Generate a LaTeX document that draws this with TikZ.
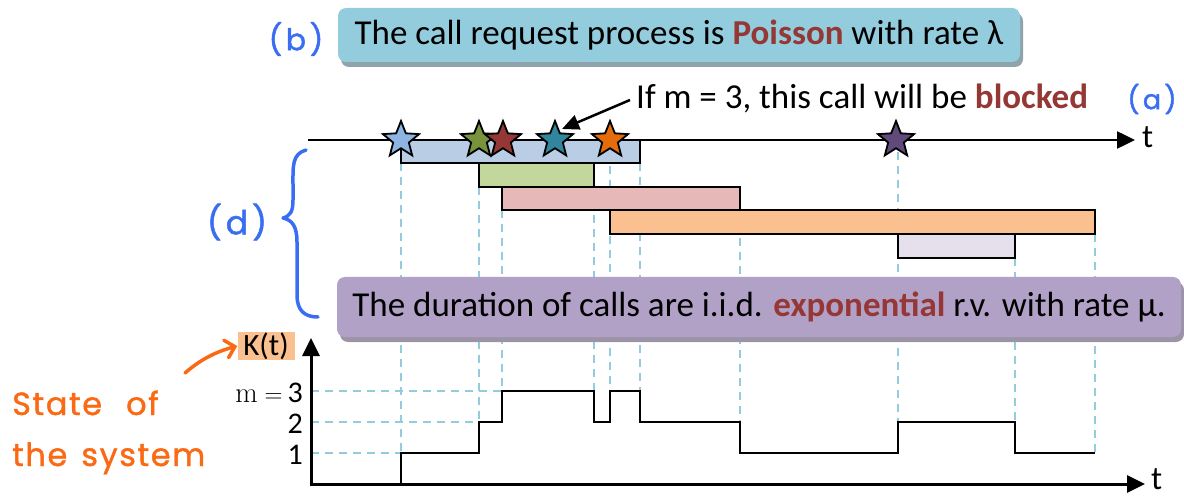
\documentclass[tikz,border=0pt]{standalone}
\usepackage{fontspec}
\usetikzlibrary{shapes.geometric,arrows.meta,shadows,calc}
\newfontfamily\calib{Carlito}
\newfontfamily\handfont[LetterSpace=12,FakeBold=1.5]{Poppins}
\newfontfamily\handfontb[LetterSpace=5,FakeBold=1.2]{Poppins}
\definecolor{dred}{HTML}{953735}
\definecolor{boxteal}{HTML}{93CDDD}
\definecolor{boxpurple}{HTML}{B2A1C7}
\definecolor{shteal}{HTML}{8FA3AB}
\definecolor{shpurple}{HTML}{9C94A6}
\definecolor{dashblue}{HTML}{93CDDD}
\definecolor{hblue}{HTML}{3A6EF2}
\definecolor{horange}{HTML}{FA6A14}
\definecolor{barblue}{HTML}{B9CDE5}
\definecolor{bargreen}{HTML}{C3D69B}
\definecolor{barpink}{HTML}{E6B9B8}
\definecolor{barorange}{HTML}{FAC090}
\definecolor{barlav}{HTML}{E6E0EC}
\definecolor{stblue}{HTML}{8EB4E3}
\definecolor{stgreen}{HTML}{77933C}
\definecolor{stred}{HTML}{953735}
\definecolor{stteal}{HTML}{31859C}
\definecolor{storange}{HTML}{E46C0A}
\definecolor{stpurple}{HTML}{604A7B}
\begin{document}
\begin{tikzpicture}[x=1pt,y=-1pt,
  starnode/.style={star,star points=5,star point ratio=2.3,minimum size=38pt,inner sep=0pt,draw=black,line width=1.8pt},
  bar/.style={draw=black,line width=1.6pt},
  dashv/.style={draw=dashblue,line width=1.6pt,dash pattern=on 8pt off 6pt},
  infobox/.style={rounded corners=8pt,inner sep=0pt,font=\calib\fontsize{35}{40}\selectfont},
  axisline/.style={line width=3pt,-{Triangle[length=18pt,width=17pt]}},
  stepline/.style={line width=2pt,line join=miter},
  hand/.style={font=\handfont\fontsize{30}{34}\selectfont},
  lbl/.style={font=\calib\fontsize{30}{34}\selectfont,inner sep=0pt},
]
\useasboundingbox (0,0) rectangle (1184,497);

% ---- dashed guide lines (behind everything) ----
\draw[dashv] (401,163) -- (401,453);
\draw[dashv] (479,187) -- (479,422);
\draw[dashv] (502,210) -- (502,391);
\draw[dashv] (594,187) -- (594,391);
\draw[dashv] (610,152) -- (610,391);
\draw[dashv] (640,163) -- (640,391);
\draw[dashv] (740,210) -- (740,422);
\draw[dashv] (898,152) -- (898,422);
\draw[dashv] (1015,258) -- (1015,422);
\draw[dashv] (1095,234) -- (1095,453);
\draw[dashv] (311,453) -- (401,453);
\draw[dashv] (311,422) -- (479,422);
\draw[dashv] (311,391) -- (502,391);

% ---- call duration bars ----
\draw[bar,fill=barblue] (401,140) rectangle (640,163);
\draw[bar,fill=bargreen] (479,163) rectangle (594,187);
\draw[bar,fill=barpink] (502,187) rectangle (740,210);
\draw[bar,fill=barorange] (610,210) rectangle (1095,234);
\draw[bar,fill=barlav] (898,234) rectangle (1015,258);

% ---- top time axis ----
\coordinate (tl0) at (308,140);
\coordinate (tl1) at (1135,140);
\draw[line width=2.5pt,-{Triangle[length=18pt,width=17pt]}] (tl0) -- (tl1);
\node[lbl,font=\calib\fontsize{33}{36}\selectfont,anchor=west] (ttop) at (1142,137) {t};

% ---- stars ----
\node[starnode,fill=stblue] (s1) at (401,140) {};
\node[starnode,fill=stgreen] (s2) at (479,140) {};
\node[starnode,fill=stred] (s3) at (503,140) {};
\node[starnode,fill=stteal] (s4) at (555,140) {};
\node[starnode,fill=storange] (s5) at (610,140) {};
\node[starnode,fill=stpurple] (s6) at (896,140) {};

% ---- blocked annotation ----
\node[anchor=west,inner sep=0pt,font=\calib\fontsize{35}{40}\selectfont] (blk) at (636,98)
  {If m = 3, this call will be \textbf{\color{dred}blocked}};
\coordinate (blktip) at (562,129);
\draw[line width=2.5pt,-{Triangle[length=17pt,width=15pt]}] ($(blk.west)+(-6,2)$) -- (blktip);

% ---- info boxes ----
\node[infobox,fill=boxteal,minimum width=682pt,minimum height=54pt,
  drop shadow={shadow xshift=3pt,shadow yshift=-5pt,fill=shteal,opacity=1}] (boxb) at (679,35)
  {The call request process is \textbf{\color{dred}Poisson} with rate λ};
\node[infobox,fill=boxpurple,minimum width=844pt,minimum height=60pt,
  drop shadow={shadow xshift=3pt,shadow yshift=-5pt,fill=shpurple,opacity=1}] (boxd) at (759,307)
  {The duration of calls are i.i.d. \textbf{\color{dred}exponential} r.v. with rate μ.};

% ---- handwritten marks ----
\node[hand,text=hblue] (hb) at (296,39) {(b)};
\node[hand,text=hblue,font=\handfont\fontsize{27}{30}\selectfont] (ha) at (1152,99) {(a)};
\node[hand,text=hblue,font=\handfont\fontsize{33}{36}\selectfont] (hd) at (237,222) {(d)};
\draw[hblue,line width=3.5pt,line cap=round,line join=round]
  (306,150) .. controls (292,154) and (293,166) .. (293,185) -- (293,200)
  .. controls (293,212) and (290,216) .. (283,218)
  .. controls (292,220) and (297,226) .. (297,242) -- (297,295)
  .. controls (297,311) and (305,317) .. (318,317);

% ---- lower chart: state K(t) ----
\coordinate (O) at (311,484);
\coordinate (ytip) at (311,338);
\coordinate (xtip) at (1145,484);
\draw[axisline] (O) -- (ytip);
\draw[axisline] ($(O)+(-1.5,0)$) -- (xtip);
\node[lbl,font=\calib\fontsize{33}{36}\selectfont,anchor=west] (tbot) at (1151,479) {t};
\node[fill=barorange,inner sep=1pt,font=\calib\fontsize{31}{34}\selectfont,minimum width=57pt,minimum height=27pt] (Kt) at (266,346) {K(t)};
\node[lbl,anchor=east] (l1) at (303,455) {1};
\node[lbl,anchor=east] (l2) at (303,424) {2};
\node[lbl,anchor=east] (l3) at (303,393) {{\fontsize{29}{32}\selectfont$\mathrm{m} =$}\,3};

\draw[stepline] (401,484) -- (401,453) -- (479,453) -- (479,422) -- (502,422) -- (502,391)
  -- (594,391) -- (594,422) -- (610,422) -- (610,391) -- (640,391) -- (640,422)
  -- (740,422) -- (740,453) -- (898,453) -- (898,422) -- (1015,422) -- (1015,453) -- (1095,453);

% ---- state of the system ----
\node[text=horange,anchor=base west,inner sep=0pt,font=\handfontb\fontsize{32}{36}\selectfont] (st1) at (12,415) {State\hspace{24pt}of};
\node[text=horange,anchor=base west,inner sep=0pt,font=\handfontb\fontsize{32}{36}\selectfont] (st2) at (12,466) {the\hspace{14pt}system};
\coordinate (oarr) at (185,373);
\draw[horange,line width=3.5pt,line cap=round,-{Straight Barb[length=9pt,width=18pt,line cap=round]}]
  (oarr) .. controls (200,360) and (215,352) .. (Kt.west);
\end{tikzpicture}
\end{document}
